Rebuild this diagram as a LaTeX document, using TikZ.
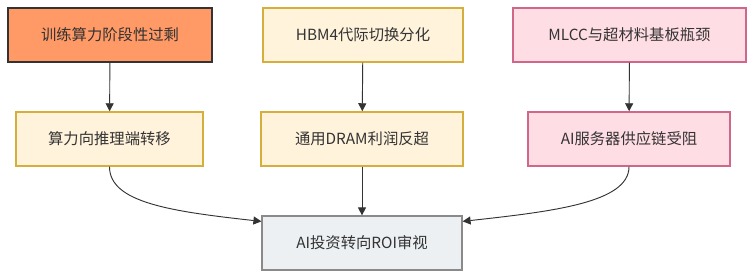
\documentclass[tikz,border=0pt]{standalone}
\usepackage{fontspec}
\setmainfont{Noto Sans CJK SC}
\usetikzlibrary{arrows.meta, positioning}

\definecolor{hotfill}{HTML}{FF9966}
\definecolor{hotline}{HTML}{333333}
\definecolor{warmfill}{HTML}{FFF3DC}
\definecolor{warmline}{HTML}{D6AE3C}
\definecolor{pinkfill}{HTML}{FFDDE4}
\definecolor{pinkline}{HTML}{D0668A}
\definecolor{endfill}{HTML}{ECF0F3}
\definecolor{endline}{HTML}{8A8A8A}
\definecolor{edge}{HTML}{333333}

\begin{document}
\begin{tikzpicture}[x=0.75pt, y=0.75pt,
    box/.style={draw, line width=1.1pt, minimum height=54*0.75pt, inner sep=0pt,
        font=\fontsize{11.5}{13}\selectfont, text=black!80},
    hotbox/.style={box, fill=hotfill, draw=hotline, line width=1.5pt},
    warmbox/.style={box, fill=warmfill, draw=warmline},
    pinkbox/.style={box, fill=pinkfill, draw=pinkline},
    endbox/.style={box, fill=endfill, draw=endline, line width=0.9pt},
    link/.style={draw=edge, line width=0.7pt, -{Triangle[length=6pt, width=6pt]}}]
    \useasboundingbox (0,0) rectangle (754,-278);

    % Causes
    \node[hotbox, minimum width=204*0.75pt] (train) at (110,-35) {训练算力阶段性过剩};
    \node[warmbox, minimum width=200*0.75pt] (hbm) at (363,-35) {HBM4代际切换分化};
    \node[pinkbox, minimum width=233*0.75pt] (mlcc) at (629.5,-35) {MLCC与超材料基板瓶颈};

    % Effects
    \node[warmbox, minimum width=187*0.75pt] (infer) at (109.5,-139) {算力向推理端转移};
    \node[warmbox, minimum width=202*0.75pt] (dram) at (362,-139) {通用DRAM利润反超};
    \node[pinkbox, minimum width=202*0.75pt] (server) at (629,-139) {AI服务器供应链受阻};

    % Outcome
    \node[endbox, minimum width=200*0.75pt] (roi) at (362,-243) {AI投资转向ROI审视};

    \draw[link] (train) -- (infer);
    \draw[link] (hbm) -- (dram);
    \draw[link] (mlcc) -- (server);
    \draw[link] (dram) -- (roi);
    \draw[link] (infer.south) .. controls +(0,-36) and +(-90,10) .. ([yshift=-4.5pt]roi.north west);
    \draw[link] (server.south) .. controls +(0,-36) and +(90,10) .. ([yshift=-4.5pt]roi.north east);
\end{tikzpicture}
\end{document}
